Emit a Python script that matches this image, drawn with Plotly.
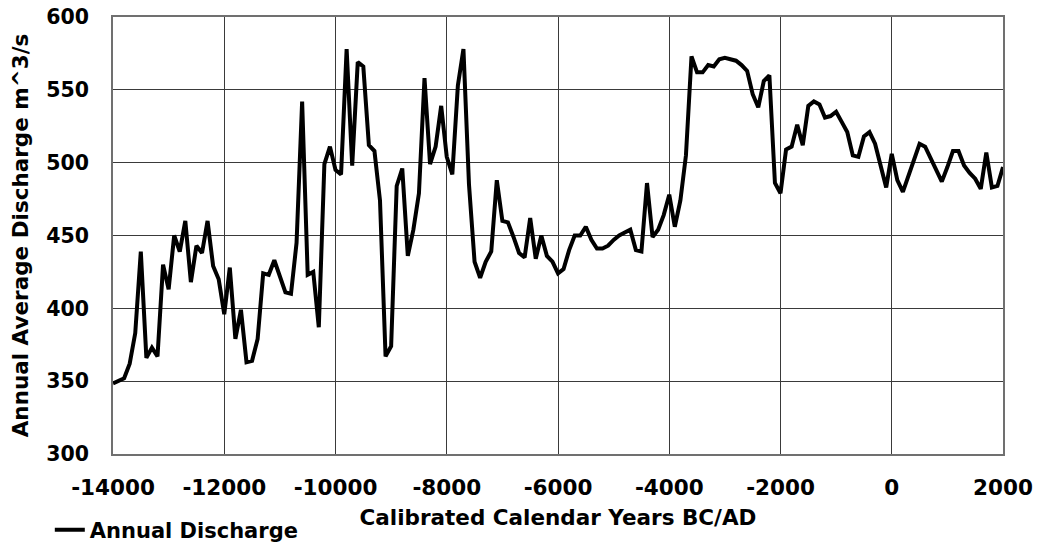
import plotly.graph_objects as go

years = list(range(-14000, 2001, 100))
discharge = [
    348.5, 350, 352, 362, 383, 439, 366, 373, 367, 430,   # -14000 .. -13100
    413, 450, 439, 460, 418, 443, 438, 460, 429, 420,     # -13000 .. -12100
    396, 428, 379, 399, 363, 364, 379, 424, 423, 433,     # -12000 .. -11100
    422, 411, 410, 445, 542, 423, 425, 387, 499, 511,     # -11000 .. -10100
    495, 492, 578, 498, 569, 566, 512, 508, 474, 367,     # -10000 .. -9100
    374, 484, 496, 436, 454, 479, 558, 499, 511, 539,     # -9000 .. -8100
    504, 492, 553, 578, 485, 432, 421, 432, 439, 488,     # -8000 .. -7100
    460, 459, 449, 438, 435, 462, 434, 450, 436, 432,     # -7000 .. -6100
    424, 427, 440, 450, 450, 456, 447, 441, 441, 443,     # -6000 .. -5100
    447, 450, 452, 454, 440, 439, 486, 449, 454, 464,     # -5000 .. -4100
    478, 456, 474, 505, 573, 562, 562, 567, 566, 571,     # -4000 .. -3100
    572, 571, 570, 567, 563, 547, 538, 556, 560, 486,     # -3000 .. -2100
    479, 509, 511, 526, 512, 539, 542, 540, 531, 532,     # -2000 .. -1100
    535, 528, 521, 505, 504, 518, 521, 513, 497, 483,     # -1000 .. -100
    506, 488, 480, 491, 502, 513, 511, 503, 494, 487,     # 0 .. 900
    497, 508, 508, 498, 493, 489, 482, 507, 483, 484,     # 1000 .. 1900
    497,                                                  # 2000
]

x_ticks = [-14000, -12000, -10000, -8000, -6000, -4000, -2000, 0, 2000]
x_tick_labels = ["-14000", "-12000", "-10000", "-8000", "-6000", "-4000", "-2000", "0", "2000"]
y_ticks = [300, 350, 400, 450, 500, 550, 600]
y_tick_labels = ["300", "350", "400", "450", "500", "550", "600"]

series_name = "Annual Discharge"
x_title = "Calibrated Calendar Years BC/AD"
y_title = "Annual Average Discharge m^3/s"

FONT = "DejaVu Sans"


def bold(size):
    return dict(family=FONT, size=size, color="black", weight="bold")


fig = go.Figure()
fig.add_trace(go.Scatter(
    x=years, y=discharge, mode="lines", name=series_name,
    line=dict(color="black", width=4),
    showlegend=True,
))

fig.update_layout(
    width=1037, height=543,
    margin=dict(l=113, r=34, t=17, b=89, autoexpand=False),
    paper_bgcolor="white", plot_bgcolor="white",
    font=bold(20),
    showlegend=True,
    legend=dict(
        x=-0.071, y=-0.174, xanchor="left", yanchor="middle",
        orientation="h", bgcolor="rgba(0,0,0,0)",
        font=bold(21), itemwidth=30,
    ),
    xaxis=dict(
        range=[-14000, 2000],
        tickmode="array", tickvals=x_ticks, ticktext=x_tick_labels,
        showgrid=True, gridcolor="#3a3a3a", gridwidth=1,
        showline=True, linecolor="#707070", linewidth=1.5, mirror=True,
        zeroline=False, ticks="", ticklabelstandoff=13,
        tickfont=bold(21.5),
        title=dict(text=x_title, standoff=11, font=bold(21.5)),
    ),
    yaxis=dict(
        range=[300, 600],
        tickmode="array", tickvals=y_ticks, ticktext=y_tick_labels,
        showgrid=True, gridcolor="#3a3a3a", gridwidth=1,
        showline=True, linecolor="#707070", linewidth=1.5, mirror=True,
        zeroline=False, ticks="", ticklabelstandoff=18,
        tickfont=bold(20.5),
        title=dict(text=y_title, standoff=12, font=bold(21.5)),
    ),
)

fig.write_html("out.html", config={"displayModeBar": False},
               post_script="document.body.style.margin='0';")
